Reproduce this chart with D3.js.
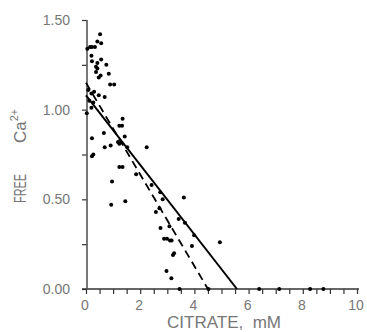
<!DOCTYPE html>
<html>
<head>
<meta charset="utf-8">
<script src="https://cdn.jsdelivr.net/npm/d3@7"></script>
<style>
  body { margin: 0; background: #fff; }
  svg { display: block; }
  .tick-label { font-family: 'Liberation Sans', Arial, sans-serif; fill: #777; }
</style>
</head>
<body>
<script>
// measured points: citrate (mM) vs free Ca2+
const citrate = [0.52, 0.42, 0.56, 0.05, 0.15, 0.22, 0.33, 0.20, 0.22, 0.56,
  0.42, 0.75, 0.37, 0.42, 0.84, 0.37, 0.54, 0.47, 0.89, 1.04,
  0.08, 0.30, 0.20, 0.47, 0.69, 0.12, 0.27, 0.20, 0.03, 1.35,
  1.23, 1.33, 0.66, 0.22, 1.43, 1.18, 1.23, 0.91, 0.69, 1.52,
  2.24, 0.27, 0.22, 1.23, 1.35, 1.85, 0.96, 2.42, 2.74, 2.83,
  3.61, 1.45, 0.93, 2.58, 2.71, 3.42, 3.65, 2.75, 3.08, 2.88,
  2.99, 3.10, 3.16, 3.99, 4.94, 3.91, 3.25, 3.21, 2.97, 3.15,
  3.45, 4.52, 6.39, 7.13, 8.27, 8.76];
const freeCa = [1.42, 1.38, 1.37, 1.34, 1.35, 1.35, 1.35, 1.30, 1.27, 1.28,
  1.26, 1.25, 1.24, 1.23, 1.20, 1.21, 1.19, 1.18, 1.14, 1.14,
  1.11, 1.10, 1.09, 1.08, 1.07, 1.05, 1.04, 1.01, 0.98, 0.95,
  0.91, 0.91, 0.87, 0.84, 0.85, 0.82, 0.81, 0.80, 0.79, 0.79,
  0.79, 0.75, 0.74, 0.68, 0.68, 0.64, 0.60, 0.58, 0.54, 0.50,
  0.51, 0.49, 0.47, 0.43, 0.45, 0.39, 0.37, 0.34, 0.35, 0.28,
  0.28, 0.27, 0.27, 0.30, 0.26, 0.24, 0.20, 0.19, 0.10, 0.06,
  0.00, 0.00, 0.00, 0.00, 0.00, 0.00];

// fitted lines (end points)
const solidLine = [[0, 1.08], [5.57, 0]];
const dashedLine = [[0, 1.15], [4.50, 0]];

const xTicks = [0, 2, 4, 6, 8, 10];
const xMinor = d3.range(0, 10.01, 0.5);
const yTicks = [0, 0.5, 1.0, 1.5];
const yMinor = d3.range(0, 1.51, 0.25);

const width = 367;
const height = 332;
const margin = { left: 86, right: 10, top: 20, bottom: 43 };

const x = d3.scaleLinear().domain([0, 10]).range([margin.left, width - margin.right]);
const y = d3.scaleLinear().domain([0, 1.5]).range([height - margin.bottom, margin.top]);

const svg = d3.select('body')
  .append('svg')
  .attr('width', width)
  .attr('height', height);

// x axis
const xAxis = svg.append('g')
  .attr('transform', `translate(0,${ y(0) })`);

xAxis.call(d3.axisBottom(x).tickValues(xMinor).tickSize(5).tickFormat(''))
  .call(g => g.select('.domain').remove())
  .call(g => g.selectAll('.tick line').attr('stroke', '#333').attr('stroke-width', 1.2));

xAxis.append('line')
  .attr('x1', x(0) - 4).attr('x2', x(10) + 2)
  .attr('stroke', '#333').attr('stroke-width', 1.4);

xAxis.selectAll('.xlab')
  .data(xTicks)
  .enter()
  .append('text')
  .attr('class', 'tick-label')
  .attr('x', d => x(d) - 1)
  .attr('y', 21)
  .attr('text-anchor', 'middle')
  .style('font-size', '14px')
  .text(d => d);

// y axis
const yAxis = svg.append('g')
  .attr('transform', `translate(${ x(0) + 1 },0)`);

yAxis.call(d3.axisLeft(y).tickValues(yMinor).tickSize(5).tickFormat(''))
  .call(g => g.select('.domain').remove())
  .call(g => g.selectAll('.tick line').attr('stroke', '#333').attr('stroke-width', 1.2));

yAxis.append('line')
  .attr('y1', y(1.5)).attr('y2', y(0))
  .attr('stroke', '#555').attr('stroke-width', 1.6);

yAxis.selectAll('.ylab')
  .data(yTicks)
  .enter()
  .append('text')
  .attr('class', 'tick-label')
  .attr('x', -17)
  .attr('y', d => y(d) + 5)
  .attr('text-anchor', 'end')
  .style('font-size', '14px')
  .text(d => d3.format('.2f')(d));

// axis titles
svg.append('text')
  .attr('class', 'tick-label')
  .attr('x', 224)
  .attr('y', 328)
  .attr('text-anchor', 'middle')
  .style('font-size', '17px')
  .text('CITRATE,\u00a0\u00a0mM');

const yTitle = svg.append('g')
  .attr('transform', 'translate(26,0) rotate(-90)');

yTitle.append('text')
  .attr('class', 'tick-label')
  .attr('x', -203)
  .attr('y', 0)
  .attr('textLength', 29)
  .attr('lengthAdjust', 'spacingAndGlyphs')
  .style('font-size', '17px')
  .text('FREE');

const caText = yTitle.append('text')
  .attr('class', 'tick-label')
  .attr('x', -143)
  .attr('y', 0)
  .style('font-size', '17px');

caText.append('tspan').text('Ca');
caText.append('tspan')
  .attr('dy', -8)
  .style('font-size', '11px')
  .text('2+');

// fitted lines
const line = d3.line().x(d => x(d[0])).y(d => y(d[1]));

svg.append('path')
  .datum(solidLine)
  .attr('d', line)
  .attr('fill', 'none')
  .attr('stroke', '#000')
  .attr('stroke-width', 2);

svg.append('path')
  .datum(dashedLine)
  .attr('d', line)
  .attr('fill', 'none')
  .attr('stroke', '#000')
  .attr('stroke-width', 1.8)
  .attr('stroke-dasharray', '8,5');

// points
svg.append('g')
  .selectAll('circle')
  .data(citrate.map((c, i) => ({ c, ca: freeCa[i] })))
  .enter()
  .append('circle')
  .attr('cx', d => x(d.c))
  .attr('cy', d => y(d.ca))
  .attr('r', 2)
  .attr('fill', '#000');
</script>
</body>
</html>
